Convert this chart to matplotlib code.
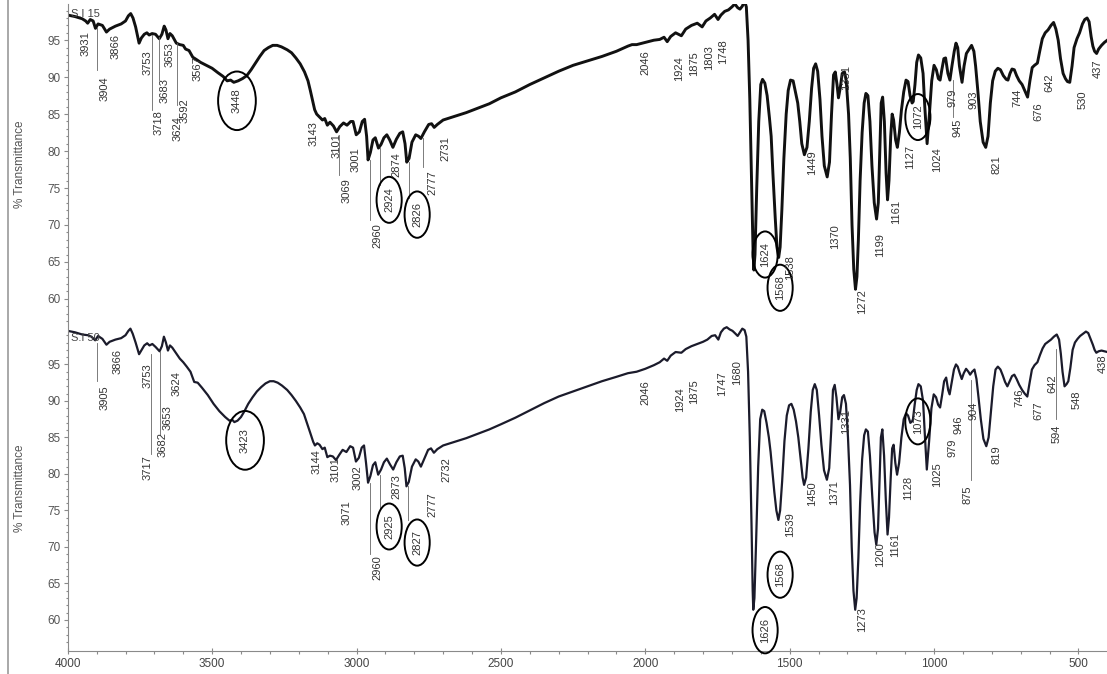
import numpy as np
import matplotlib.pyplot as plt
from matplotlib.lines import Line2D

plt.rcParams['font.family'] = ['Liberation Sans', 'DejaVu Sans']

# ---- spectrum S.I 15 (top) : wavenumber (cm-1), % transmittance
top_wn = [4000, 3975, 3950, 3938, 3931, 3922, 3912, 3904, 3895, 3880, 3866, 3855, 3835, 3815, 3800,
          3790, 3782, 3774, 3765, 3753, 3745, 3735, 3726, 3718, 3708, 3696, 3683, 3674, 3666, 3660,
          3653, 3646, 3638, 3624, 3612, 3600, 3592, 3580, 3567, 3555, 3540, 3520, 3500, 3480, 3462,
          3448, 3436, 3425, 3410, 3395, 3380, 3365, 3350, 3335, 3320, 3305, 3290, 3275, 3260, 3240,
          3225, 3210, 3195, 3180, 3168, 3160, 3152, 3145, 3138, 3128, 3118, 3110, 3101, 3092, 3080,
          3069, 3058, 3045, 3033, 3020, 3012, 3001, 2990, 2980, 2972, 2965, 2960, 2952, 2943, 2935,
          2924, 2915, 2905, 2895, 2885, 2874, 2862, 2850, 2840, 2832, 2826, 2818, 2808, 2795, 2785,
          2777, 2765, 2750, 2740, 2731, 2720, 2700, 2660, 2620, 2580, 2540, 2500, 2450, 2400, 2350,
          2300, 2250, 2200, 2150, 2100, 2060, 2046, 2030, 2000, 1970, 1950, 1935, 1924, 1912, 1895,
          1875, 1860, 1840, 1820, 1803, 1790, 1775, 1760, 1748, 1738, 1725, 1712, 1700, 1690, 1680,
          1672, 1664, 1656, 1650, 1644, 1638, 1632, 1627, 1624, 1620, 1614, 1607, 1600, 1594, 1586,
          1578, 1570, 1564, 1558, 1550, 1544, 1538, 1533, 1527, 1520, 1512, 1505, 1497, 1488, 1480,
          1472, 1465, 1458, 1449, 1440, 1432, 1424, 1417, 1410, 1403, 1395, 1388, 1380, 1370, 1362,
          1355, 1348, 1342, 1336, 1331, 1325, 1318, 1310, 1304, 1296, 1290, 1284, 1278, 1272, 1267,
          1262, 1256, 1249, 1242, 1236, 1229, 1222, 1215, 1207, 1199, 1193, 1188, 1183, 1178, 1172,
          1166, 1161, 1156, 1150, 1145, 1140, 1133, 1127, 1120, 1113, 1105, 1097, 1090, 1083, 1076,
          1072, 1066, 1060, 1054, 1046, 1038, 1032, 1024, 1016, 1008, 1000, 992, 985, 979, 973,
          966, 960, 952, 945, 938, 930, 924, 918, 912, 903, 896, 888, 878, 870, 862,
          856, 848, 840, 830, 821, 813, 805, 797, 788, 779, 770, 760, 750, 744, 737,
          730, 722, 714, 705, 695, 686, 676, 668, 660, 652, 642, 634, 625, 615, 605,
          595, 586, 578, 570, 562, 553, 545, 538, 530, 522, 515, 505, 496, 486, 478,
          470, 463, 456, 450, 444, 437, 430, 420, 410, 400]
top_t = [98.4, 98.2, 97.9, 97.6, 97.3, 97.8, 97.6, 96.6, 97.2, 97.0, 96.1, 96.5, 96.9, 97.2, 97.6,
         98.3, 98.6, 98.0, 96.8, 94.6, 95.3, 95.8, 96.0, 95.7, 95.9, 95.8, 95.2, 95.8, 96.9, 96.4,
         95.2, 95.9, 95.6, 94.6, 94.4, 94.3, 93.8, 93.6, 92.7, 92.4, 92.0, 91.6, 91.2, 90.6, 90.1,
         89.5, 89.6, 89.3, 89.5, 89.8, 90.2, 91.0, 91.9, 92.8, 93.6, 94.0, 94.3, 94.3, 94.1, 93.7,
         93.3, 92.6, 91.8, 90.7, 89.5, 88.2, 86.8, 85.6, 85.0, 84.6, 84.2, 84.4, 83.5, 83.9, 83.4,
         82.6, 83.3, 83.8, 83.5, 84.0, 84.0, 82.2, 82.6, 84.0, 84.3, 82.0, 78.8, 79.8, 81.5, 81.8,
         80.4, 80.9, 81.8, 82.2, 81.5, 80.5, 81.6, 82.4, 82.6, 81.0, 78.5, 79.0, 81.2, 82.2, 82.0,
         81.7, 82.6, 83.6, 83.7, 83.2, 83.6, 84.2, 84.7, 85.2, 85.8, 86.4, 87.2, 88.0, 89.0, 89.9,
         90.8, 91.6, 92.2, 92.8, 93.5, 94.2, 94.4, 94.4, 94.7, 95.0, 95.1, 95.4, 94.8, 95.5, 96.0,
         95.6, 96.5, 97.0, 97.3, 96.8, 97.6, 98.0, 98.5, 97.8, 98.4, 98.9, 99.1, 99.5, 99.9, 99.4,
         99.2, 99.6, 100.3, 99.5, 95.0, 87.0, 76.0, 67.0, 63.9, 66.0, 75.0, 84.0, 89.0, 89.7, 89.2,
         87.5, 84.5, 82.0, 77.0, 71.0, 67.0, 65.6, 67.0, 72.0, 79.0, 85.0, 88.2, 89.6, 89.5, 88.0,
         86.5, 84.0, 81.0, 79.5, 80.5, 84.0, 88.5, 91.2, 91.8, 90.8, 87.0, 82.0, 78.0, 76.5, 78.5,
         85.0, 90.3, 90.7, 89.0, 87.2, 88.5, 90.5, 90.7, 89.5, 85.0, 79.0, 70.0, 64.0, 61.3, 63.0,
         68.0, 76.0, 82.5, 86.5, 87.8, 87.5, 84.0, 78.0, 73.0, 70.8, 73.0, 80.0, 86.5, 87.3, 84.0,
         77.0, 73.4, 76.0, 82.0, 85.0, 84.2, 81.5, 80.5, 82.5, 85.5, 88.0, 89.6, 89.4, 87.5, 86.5,
         86.7, 89.0, 92.0, 93.0, 92.6, 90.5, 86.0, 81.0, 85.0, 89.5, 91.6, 91.0, 89.8, 89.6, 91.0,
         92.5, 92.6, 90.5, 89.6, 91.5, 93.5, 94.6, 94.0, 91.5, 89.3, 91.5, 93.2, 93.8, 94.3, 93.5,
         91.5, 88.0, 84.0, 81.2, 80.5, 82.0, 86.5, 89.5, 90.8, 91.2, 91.0, 90.2, 89.7, 89.6, 90.5,
         91.1, 91.0, 90.2, 89.5, 89.0, 88.2, 87.3, 89.5, 91.3, 91.6, 91.9, 93.5, 95.2, 96.0, 96.4,
         97.0, 97.4, 96.5, 95.0, 92.5, 90.5, 89.8, 89.4, 89.3, 91.5, 94.0, 95.2, 96.0, 97.2, 97.8,
         98.0, 97.5, 95.5, 94.2, 93.5, 93.2, 93.8, 94.3, 94.7, 95.0]

# ---- spectrum S.I 50 (bottom)
bot_wn = [4000, 3975, 3950, 3930, 3918, 3905, 3895, 3880, 3866, 3855, 3835, 3815, 3800, 3790, 3783,
          3775, 3765, 3753, 3744, 3735, 3725, 3717, 3707, 3696, 3682, 3674, 3667, 3660, 3653, 3646,
          3638, 3624, 3612, 3600, 3588, 3575, 3562, 3550, 3535, 3515, 3495, 3475, 3455, 3440, 3430,
          3423, 3412, 3400, 3388, 3375, 3360, 3345, 3330, 3315, 3300, 3287, 3273, 3258, 3240, 3225,
          3210, 3195, 3182, 3170, 3160, 3150, 3144, 3136, 3128, 3118, 3110, 3101, 3092, 3082, 3071,
          3060, 3048, 3035, 3022, 3012, 3002, 2992, 2982, 2974, 2967, 2960, 2952, 2943, 2935, 2925,
          2915, 2905, 2895, 2884, 2873, 2862, 2850, 2840, 2833, 2827, 2819, 2808, 2795, 2786, 2777,
          2765, 2752, 2742, 2732, 2720, 2700, 2660, 2620, 2580, 2540, 2500, 2450, 2400, 2350, 2300,
          2250, 2200, 2150, 2100, 2060, 2046, 2030, 2000, 1970, 1950, 1935, 1924, 1912, 1895, 1875,
          1860, 1840, 1820, 1800, 1785, 1770, 1758, 1747, 1738, 1728, 1718, 1708, 1698, 1690, 1680,
          1672, 1664, 1656, 1650, 1644, 1638, 1632, 1628, 1626, 1622, 1616, 1609, 1602, 1595, 1588,
          1580, 1572, 1566, 1560, 1553, 1546, 1539, 1533, 1526, 1518, 1510, 1502, 1494, 1486, 1478,
          1470, 1462, 1455, 1450, 1443, 1435, 1427, 1420, 1413, 1406, 1398, 1390, 1381, 1371, 1363,
          1356, 1350, 1344, 1338, 1331, 1325, 1318, 1312, 1305, 1298, 1291, 1285, 1279, 1273, 1268,
          1262, 1256, 1249, 1242, 1236, 1229, 1222, 1214, 1206, 1200, 1194, 1189, 1184, 1179, 1173,
          1167, 1161, 1156, 1150, 1145, 1140, 1134, 1128, 1121, 1113, 1105, 1097, 1090, 1082, 1076,
          1073, 1067, 1060, 1054, 1046, 1038, 1032, 1025, 1017, 1009, 1001, 993, 986, 979, 972,
          965, 958, 951, 946, 939, 931, 924, 918, 911, 904, 897, 889, 881, 875, 868,
          860, 853, 846, 838, 829, 819, 811, 803, 795, 787, 779, 770, 762, 754, 746,
          738, 730, 722, 714, 705, 695, 686, 677, 669, 661, 652, 642, 633, 624, 615,
          605, 595, 585, 575, 567, 561, 555, 548, 541, 535, 528, 520, 512, 503, 494,
          484, 474, 466, 458, 450, 444, 438, 430, 420, 410, 400]
bot_t = [99.6, 99.4, 99.1, 99.0, 98.8, 98.3, 98.9, 98.5, 97.7, 98.1, 98.4, 98.6, 99.0, 99.6, 99.9,
         99.2, 98.0, 96.4, 97.0, 97.6, 97.9, 97.6, 97.8, 97.4, 96.8, 97.5, 98.8, 98.0, 96.9, 97.6,
         97.3, 96.5, 95.8, 95.3, 94.7, 94.0, 92.6, 92.5, 91.8, 90.8, 89.6, 88.6, 87.8, 87.3, 87.4,
         87.1, 87.3, 87.8, 88.6, 89.6, 90.5, 91.3, 91.9, 92.4, 92.7, 92.7, 92.5, 92.1, 91.5, 90.8,
         90.0, 89.1, 88.2, 86.8, 85.6, 84.4, 83.9, 84.2, 84.0, 83.4, 83.6, 82.3, 82.5, 82.4, 81.9,
         82.6, 83.3, 83.0, 83.8, 83.6, 81.7, 82.2, 83.6, 83.9, 81.5, 78.8, 79.7, 81.2, 81.6, 79.9,
         80.6, 81.6, 82.1, 81.3, 80.6, 81.6, 82.4, 82.5, 80.8, 78.3, 78.9, 81.0, 82.0, 81.7, 81.0,
         82.1, 83.3, 83.5, 82.9, 83.4, 83.9, 84.4, 84.9, 85.5, 86.1, 86.8, 87.7, 88.7, 89.7, 90.6,
         91.3, 92.0, 92.7, 93.3, 93.8, 93.9, 94.0, 94.4, 94.9, 95.3, 95.8, 95.5, 96.2, 96.7, 96.6,
         97.1, 97.5, 97.8, 98.1, 98.4, 98.9, 99.0, 98.4, 99.4, 99.9, 100.1, 99.8, 99.6, 99.3, 98.9,
         99.4, 99.9, 99.7, 98.8, 94.0, 85.0, 73.0, 64.0, 61.4, 63.0, 71.0, 81.0, 87.5, 88.8, 88.6,
         87.0, 85.0, 83.0, 80.5, 77.5, 75.0, 73.7, 75.0, 79.0, 84.5, 88.0, 89.4, 89.6, 88.8, 87.2,
         85.0, 82.0, 79.5, 78.5, 79.5, 83.5, 88.5, 91.5, 92.3, 91.5, 88.0, 84.0, 80.5, 79.2, 80.8,
         86.0, 91.5, 92.2, 90.5, 87.5, 88.5, 90.5, 90.8, 89.6, 85.0, 78.5, 70.0, 64.0, 61.4, 63.0,
         68.5, 76.0, 82.0, 85.3, 86.1, 85.8, 82.5, 77.0, 72.0, 70.3, 72.5, 79.0, 85.0, 86.1, 82.5,
         76.5, 71.7, 74.0, 79.5, 83.5, 84.0, 81.5, 79.9, 81.5, 85.0, 87.5, 88.3, 88.0, 87.0, 87.2,
         87.5, 89.5, 91.5, 92.3, 92.0, 90.0, 85.5, 80.6, 84.5, 89.0, 90.9, 90.5, 89.5, 89.1, 90.8,
         92.7, 93.2, 91.5, 90.9, 92.5, 94.3, 95.0, 94.7, 93.8, 93.0, 93.8, 94.4, 94.0, 93.6, 94.0,
         94.3, 93.0, 90.5, 87.5, 84.8, 83.8, 85.0, 88.5, 92.0, 94.3, 94.7, 94.3, 93.5, 92.6, 92.0,
         92.7, 93.4, 93.6, 93.0, 92.2, 91.5, 91.0, 90.6, 92.5, 94.3, 94.9, 95.3, 96.3, 97.2, 97.8,
         98.1, 98.4, 98.8, 99.1, 98.4, 96.5, 94.0, 92.0, 92.3, 92.7, 94.5, 97.0, 98.0, 98.5, 98.9,
         99.2, 99.5, 99.3, 98.5, 97.7, 97.0, 96.6, 96.8, 96.9, 96.8, 96.7]

# ---- peak labels: text, label x (cm-1), label y (%T)
top_lab = ['3931', '3904', '3866', '3753', '3718', '3683', '3653', '3624', '3592', '3567', '3448',
           '3143', '3101', '3069', '3001', '2960', '2924', '2874', '2826', '2777', '2731', '2046',
           '1924', '1875', '1803', '1748', '1624', '1568', '1538', '1449', '1370', '1331', '1272',
           '1199', '1161', '1127', '1072', '1024', '979', '945', '903', '821', '744', '676', '642',
           '530', '437']
top_lab_x = [3937, 3871, 3836, 3722, 3687, 3663, 3646, 3618, 3594, 3552, 3414,
             3147, 3068, 3033, 3002, 2929, 2887, 2860, 2790, 2738, 2693, 2001,
             1883, 1831, 1779, 1731, 1585, 1533, 1499, 1423, 1343, 1305, 1250,
             1187, 1132, 1084, 1056, 990, 935, 917, 865, 782, 710, 640, 599,
             485, 433]
top_lab_y = [94.5, 88.5, 94.2, 91.9, 83.9, 88.2, 93.0, 83.1, 85.5, 91.1, 86.8,
             82.4, 80.7, 74.7, 78.9, 68.6, 73.4, 78.1, 71.4, 75.7, 80.4, 92.0,
             91.2, 91.8, 92.6, 93.4, 66.0, 61.5, 64.3, 78.4, 68.4, 89.9, 59.6,
             67.3, 71.8, 79.2, 84.6, 78.8, 87.2, 83.1, 86.9, 78.1, 87.2, 85.3, 89.2,
             87.0, 91.1]
top_circled = ['3448', '2924', '2826', '1624', '1568', '1072']

bot_lab = ['3905', '3866', '3753', '3717', '3682', '3653', '3624', '3423', '3144', '3101', '3071',
           '3002', '2960', '2925', '2873', '2827', '2777', '2732', '2046', '1924', '1875', '1747',
           '1680', '1626', '1568', '1539', '1450', '1371', '1331', '1273', '1200', '1161', '1128',
           '1073', '1025', '979', '946', '904', '875', '819', '746', '677', '642', '594', '548',
           '438']
bot_lab_x = [3871, 3829, 3722, 3722, 3670, 3653, 3622, 3386, 3140, 3074, 3036,
             2998, 2929, 2887, 2860, 2790, 2738, 2690, 2001, 1880, 1831, 1734,
             1682, 1585, 1533, 1499, 1423, 1346, 1305, 1250, 1187, 1135, 1090,
             1056, 990, 935, 914, 865, 883, 782, 706, 640, 589, 575, 506,
             416]
bot_lab_y = [90.5, 95.4, 93.5, 80.9, 84.0, 87.7, 92.4, 84.6, 81.7, 80.6, 74.7,
             79.5, 67.2, 72.8, 78.3, 70.6, 75.8, 80.6, 91.2, 90.2, 91.3, 92.3,
             93.9, 58.6, 66.2, 73.1, 77.3, 77.4, 87.2, 60.0, 68.9, 70.3, 78.1,
             87.2, 79.9, 83.6, 86.8, 88.6, 77.2, 82.7, 90.5, 88.6, 92.4, 85.5, 90.1,
             95.1]
bot_circled = ['3423', '2925', '2827', '1626', '1568', '1073']

# leader lines: x (cm-1), from %T, to %T
top_leaders = [(3899, 96.6, 91.0), (3708, 95.7, 85.5), (3684, 95.4, 89.6), (3621, 94.6, 86.2),
               (3060, 82.2, 76.8), (2953, 78.8, 70.7), (2919, 80.4, 75.4), (2818, 78.5, 73.6),
               (2770, 81.8, 77.8), (935, 89.6, 84.6)]
bot_leaders = [(3899, 98.0, 92.7), (3712, 96.4, 82.7), (3680, 96.8, 85.4), (2953, 78.8, 69.0),
               (2919, 79.9, 75.1), (2821, 78.3, 73.7), (873, 92.9, 79.2), (578, 97.1, 87.5)]

fig = plt.figure(figsize=(11.07, 6.74), dpi=100)
ax1 = fig.add_axes([0.0612, 0.5193, 0.9388, 0.4748])
ax2 = fig.add_axes([0.0612, 0.0347, 0.9388, 0.4831])

gray = '#8a8a8a'
for ax, ylim in ((ax1, (56.6, 99.9)), (ax2, (55.8, 100.4))):
    ax.set_xlim(4000, 401)
    ax.set_ylim(*ylim)
    for s in ('top', 'right'):
        ax.spines[s].set_visible(False)
    ax.spines['left'].set_color(gray)
    ax.spines['bottom'].set_color(gray)
    ax.set_yticks(np.arange(60, 96, 5))
    ax.set_yticks(np.arange(57, 100, 1), minor=True)
    ax.set_xticks(np.arange(4000, 400, -500))
    ax.set_xticks(np.arange(4000, 400, -100), minor=True)
    ax.tick_params(axis='y', which='major', length=3, width=0.8, color=gray,
                   labelsize=8.5, labelcolor='#555555', pad=2)
    ax.tick_params(axis='y', which='minor', length=1.5, width=0.8, color=gray)
    ax.set_ylabel('% Transmittance', fontsize=8.5, color='#555555')
    ax.yaxis.set_label_coords(-0.040, 0.5)
    ax.patch.set_visible(False)

ax1.spines['bottom'].set_visible(False)
ax1.tick_params(axis='x', which='both', bottom=False, labelbottom=False)
ax2.tick_params(axis='x', which='major', length=4, width=0.8, color=gray, direction='inout',
                labelsize=8.5, labelcolor='#444444', pad=3)
ax2.tick_params(axis='x', which='minor', length=2, width=0.8, color=gray)
for lab in ax2.get_xticklabels():
    lab.set_family(['Liberation Sans Narrow', 'Liberation Sans'])

ax1.plot(top_wn, top_t, color='#111111', lw=2.1, solid_joinstyle='round')
ax2.plot(bot_wn, bot_t, color='#1b1b2b', lw=1.6, solid_joinstyle='round')

ax1.text(0.003, 0.985, 'S.I 15', transform=ax1.transAxes, fontsize=8, color='#444444',
         va='top', ha='left')
ax2.text(0.003, 0.975, 'S.I 50', transform=ax2.transAxes, fontsize=8, color='#444444',
         va='top', ha='left')

for ax, leaders in ((ax1, top_leaders), (ax2, bot_leaders)):
    for x, y0, y1 in leaders:
        ax.plot([x, x], [y0, y1], color='#666666', lw=0.6)

for ax, labs, lx, ly, circ in ((ax1, top_lab, top_lab_x, top_lab_y, top_circled),
                               (ax2, bot_lab, bot_lab_x, bot_lab_y, bot_circled)):
    for s, x, y in zip(labs, lx, ly):
        kw = {}
        if s in circ:
            pad = 0.75 if s in ('3448', '3423') else 0.35
            kw['bbox'] = dict(boxstyle=f'ellipse,pad={pad}', fc='none', ec='black', lw=1.4)
        ax.text(x, y, s, rotation=90, fontsize=8, color='#333333',
                ha='center', va='center', **kw)

# scan border on the left
fig.add_artist(Line2D([0.0068, 0.0068], [0, 1], transform=fig.transFigure,
                      color='#9a9a9a', lw=1.2))

fig.savefig('out.png', dpi=100)
